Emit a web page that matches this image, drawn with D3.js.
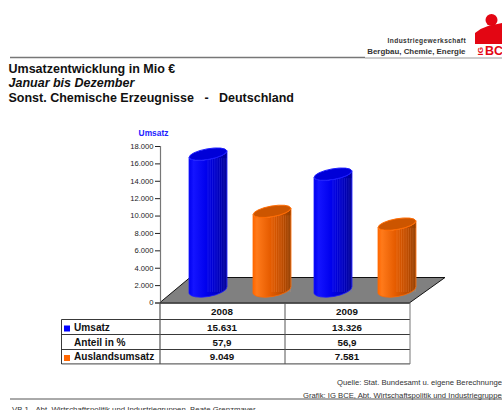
<!DOCTYPE html>
<html><head><meta charset="utf-8">
<script src="https://d3js.org/d3.v7.min.js"></script>
<style>html,body{margin:0;padding:0;background:#fff;overflow:hidden}svg{display:block}text{font-family:"Liberation Sans",Arial,sans-serif}</style>
</head><body><svg id="c" width="502" height="410"></svg>
<script>
const years=["2008","2009"];
const umsatz=[15631,13326];
const anteil=["57,9","56,9"];
const ausland=[9049,7581];
const umsatzLabels=["15.631","13.326"];
const auslandLabels=["9.049","7.581"];
const yTicks=[0,2000,4000,6000,8000,10000,12000,14000,16000,18000];
const titleLines=["Umsatzentwicklung in Mio €","Januar bis Dezember","Sonst. Chemische Erzeugnisse   -   Deutschland"];
const rowNames=["Umsatz","Anteil in %","Auslandsumsatz"];
const BLUE="#0000ff",ORANGE="#ff6600";

const svg=d3.select("#c");
const defs=svg.append("defs");
function grad(id,stops){
  const g=defs.append("linearGradient").attr("id",id);
  stops.forEach(s=>g.append("stop").attr("offset",s[0]).attr("stop-color",s[1]));
}
grad("gb",[[0,"#0000f0"],[.12,"#1414ff"],[.45,"#0000ee"],[.8,"#0000b8"],[1,"#00008c"]]);
grad("go",[[0,"#ff6600"],[.1,"#ff7a1a"],[.45,"#e65c00"],[.8,"#b84a00"],[1,"#8c3c00"]]);

// header
svg.append("line").attr("x1",10).attr("x2",365).attr("y1",57.5).attr("y2",57.5).attr("stroke","#777").attr("stroke-width",1.6);
svg.append("line").attr("x1",365).attr("x2",502).attr("y1",58).attr("y2",58).attr("stroke","#999").attr("stroke-width",1);
svg.append("text").attr("x",466).attr("y",43).attr("text-anchor","end").attr("font-size",6.6).attr("font-weight","bold").attr("fill","#333").style("letter-spacing","0.4px").text("Industriegewerkschaft");
svg.append("text").attr("x",465.5).attr("y",54).attr("text-anchor","end").attr("font-size",7.9).attr("font-weight","bold").attr("fill","#333").text("Bergbau, Chemie, Energie");
// logo
svg.append("circle").attr("cx",491.5).attr("cy",20).attr("r",6).attr("fill","#e30613");
svg.append("path").attr("d","M475 44 L475 33 Q481 28 488 26 L502 23 L502 44 Z").attr("fill","#e30613");
svg.append("text").attr("x",485).attr("y",55).attr("font-size",13.5).attr("font-weight","bold").attr("fill","#e30613").attr("textLength",18).attr("lengthAdjust","spacingAndGlyphs").text("BC");
svg.append("text").attr("transform","translate(482.5,55.5) rotate(-90)").attr("font-size",8).attr("font-weight","bold").attr("fill","#e30613").text("IG");

// titles
titleLines.forEach((t,i)=>svg.append("text").attr("x",8.5).attr("y",[72.7,86.7,102][i]).attr("font-size",12.5)
  .attr("font-weight","bold").attr("font-style",i==1?"italic":"normal").attr("fill","#111").attr("xml:space","preserve").style("white-space","pre").text(t));

// scale
const y=d3.scaleLinear().domain([0,18000]).range([302.5,146]);
const unit=y(0)-y(1); 
svg.append("text").attr("x",153.5).attr("y",136).attr("text-anchor","middle").attr("font-size",8.4).attr("font-weight","bold").attr("fill","#2222ff").text("Umsatz");

// floor
const fl=[[160,302.5],[190,277.5],[445,277.5],[410,302.5]];
svg.append("path").attr("d",d3.line()(fl)+"Z").attr("fill","#808080").attr("stroke","none");
svg.append("path").attr("d",d3.line()(fl)).attr("fill","none").attr("stroke","#111").attr("stroke-width",1);

// axis
const axis=d3.axisLeft(y).tickValues(yTicks).tickSize(5).tickPadding(1.5)
  .tickFormat(d=>d3.format(",")(d).replace(",","."));
const ga=svg.append("g").attr("transform","translate(160,0)").call(axis);
ga.select(".domain").attr("stroke","#777").attr("stroke-width",1.2);
ga.selectAll(".tick line").attr("stroke","#222");
ga.selectAll("text").attr("font-size",7.6).attr("fill","#222").style("font-family",'"Liberation Sans",Arial,sans-serif');

// cylinders
const bars=[];
years.forEach((yr,i)=>{
  bars.push({v:umsatz[i],c:"gb",edge:"#1a1aff",top:"#0000d8",stripe:"#5a5aff"});
  bars.push({v:ausland[i],c:"go",edge:"#ff6a00",top:"#cc5500",stripe:"#ffa060"});
});
const offs=[189,253,314,378];
const W=38, RY=5.3, tilt=-10, base=y(0)-12.5;
const cyl=svg.append("g");
bars.forEach((b,k)=>{
  const x0=offs[k], xc=x0+W/2, yt=base-unit*b.v;
  const rise=Math.sin(-tilt*Math.PI/180)*W/2;
  const g=cyl.append("g");
  const rx=W/2;
  g.append("path").attr("d",`M${x0} ${yt+rise} L${x0} ${base+rise} A${rx+.3} ${RY+1.5} ${tilt} 0 0 ${x0+W} ${base-rise} L${x0+W} ${yt-rise} A${rx} ${RY} ${tilt} 0 1 ${x0} ${yt+rise} Z`)
    .attr("fill",`url(#${b.c})`).attr("stroke",b.edge).attr("stroke-width",.8);
  d3.range(0.5,1,0.06).forEach(f=>{
    g.append("line").attr("x1",x0+W*f).attr("x2",x0+W*f).attr("y1",yt+4).attr("y2",base+2)
     .attr("stroke",b.stripe).attr("stroke-opacity",.35).attr("stroke-width",.7);
  });
  g.append("ellipse").attr("cx",xc).attr("cy",yt).attr("rx",rx).attr("ry",RY)
    .attr("transform",`rotate(${tilt} ${xc} ${yt})`).attr("fill",b.top).attr("stroke",b.edge).attr("stroke-width",.9);
});

// table
const T=svg.append("g").attr("stroke","#222");
T.append("line").attr("x1",160).attr("x2",410).attr("y1",303).attr("y2",303).attr("stroke-width",1.6);
[319.5,334.5,349.5].forEach(v=>T.append("line").attr("x1",61.5).attr("x2",410).attr("y1",v).attr("y2",v).attr("stroke-width",.9));
T.append("line").attr("x1",61.5).attr("x2",410).attr("y1",363.8).attr("y2",363.8).attr("stroke","#666").attr("stroke-width",1.2);
T.append("line").attr("x1",61.5).attr("x2",61.5).attr("y1",319.5).attr("y2",364).attr("stroke-width",.9);
T.append("line").attr("x1",160).attr("x2",160).attr("y1",303).attr("y2",364).attr("stroke","#555").attr("stroke-width",1.2);
T.append("line").attr("x1",285).attr("x2",285).attr("y1",303).attr("y2",364).attr("stroke","#555").attr("stroke-width",1);
T.append("line").attr("x1",410).attr("x2",410).attr("y1",303).attr("y2",364).attr("stroke","#777").attr("stroke-width",1);

const cell=(x,y,t,a,fs)=>svg.append("text").attr("x",x).attr("y",y).attr("text-anchor",a||"middle").attr("font-size",fs||9.8).attr("font-weight","bold").attr("fill","#111").text(t);
const cols=[222,347];
years.forEach((t,i)=>{
  cell(cols[i],315,t);
  cell(cols[i],331,umsatzLabels[i]);
  cell(cols[i],346,anteil[i]);
  cell(cols[i],360,auslandLabels[i]);
});
rowNames.forEach((t,i)=>cell(74,[331,346,360][i],t,"start",10.1));
svg.append("rect").attr("x",64).attr("y",325.5).attr("width",6).attr("height",6).attr("fill",BLUE);
svg.append("rect").attr("x",64).attr("y",355).attr("width",6).attr("height",6).attr("fill",ORANGE);

// footer
svg.append("text").attr("x",337).attr("y",385).attr("font-size",7.7).attr("fill","#333").text("Quelle: Stat. Bundesamt u. eigene Berechnungen");
svg.append("text").attr("x",303).attr("y",398).attr("font-size",7.7).attr("fill","#333").text("Grafik: IG BCE, Abt. Wirtschaftspolitik und Industriegruppen");
svg.append("line").attr("x1",10).attr("x2",502).attr("y1",399).attr("y2",399).attr("stroke","#555").attr("stroke-width",1);
svg.append("text").attr("x",12).attr("y",411.5).attr("font-size",7.8).attr("fill","#333").text("VB 1 - Abt. Wirtschaftspolitik und Industriegruppen, Beate Grenzmayer");
</script></body></html>
